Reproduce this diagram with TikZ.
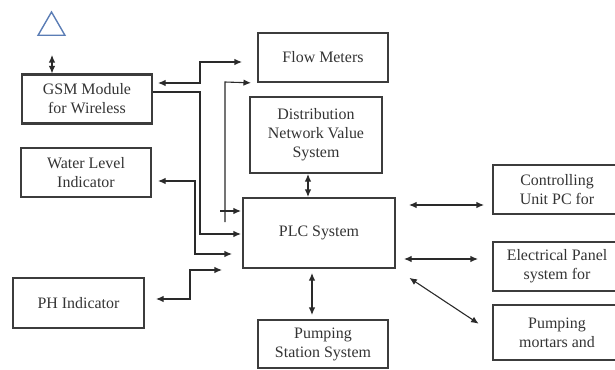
\documentclass[tikz,border=0pt]{standalone}
\usepackage{fontspec}
\setmainfont{Liberation Serif}
\newfontfamily\boxfont{Liberation Serif}
\usetikzlibrary{arrows.meta,shapes.geometric}
\definecolor{ink}{HTML}{333333}
\definecolor{edge}{HTML}{3C3C3C}
\definecolor{wire}{HTML}{2A2A2A}
\definecolor{antc}{HTML}{5B7DB5}
\tikzset{
  blk/.style={draw=edge,line width=2.1pt,minimum width=130bp,minimum height=49bp,align=center,inner sep=2pt,text=ink,font=\boxfont\fontsize{16}{19}\selectfont},
  tip/.style={-{Latex[length=7.5bp,width=6.5bp]},line width=1.1pt,wire},
  bitip/.style={{Latex[length=7.5bp,width=6.5bp]}-{Latex[length=7.5bp,width=6.5bp]},line width=1.1pt,wire},
  antenna/.style={draw=antc,line width=1.4pt,regular polygon,regular polygon sides=3,minimum size=31bp,inner sep=0pt}
}
\begin{document}
\begin{tikzpicture}[x=1bp,y=-1bp]
\useasboundingbox (0,0) rectangle (615,369);
\clip (0,0) rectangle (615,369);
% antenna
\node[antenna] (ant) at (51.5,27.5) {};
\coordinate (antfoot) at (52,55);
% left column
\node[blk] (gsm)   at (87,99)     {GSM Module\\for Wireless};
\node[blk] (water) at (86,172.5)  {Water Level\\Indicator};
\node[blk,minimum width=131bp,minimum height=50bp] (ph) at (78.5,303) {PH Indicator};
% middle column
\node[blk] (flow)  at (323,57.5)  {Flow Meters};
\node[blk,minimum width=132bp,minimum height=76bp] (dist) at (316,135) {Distribution\\Network Value\\System};
\node[blk,minimum width=152bp,minimum height=70bp] (plc)  at (319,233) {PLC System};
\node[blk,minimum height=48bp] (pump) at (323,344) {Pumping\\Station System};
% right column, cut by the page edge
\node[blk,minimum width=128bp] (ctrl)  at (557,189.5) {Controlling\\Unit PC for};
\node[blk,minimum width=128bp] (elec)  at (557,266.5) {Electrical Panel\\system for};
\node[blk,minimum width=128bp,minimum height=55bp] (motor) at (557,332.5) {Pumping\\mortars and};
% links
\draw[bitip] (antfoot) -- (gsm.north -| antfoot);
\draw[bitip,shorten <=5bp,shorten >=15bp] (gsm.east |- 0,83) -- (200,83) -- (200,62) -- (flow.west |- 0,62);
\draw[tip,shorten >=1bp] (gsm.east |- 0,92) -- (200,92) -- (200,234) -- (plc.west |- 0,234);
\draw[tip,shorten >=6bp] (225,222) -- (225,82) -- (flow.south west);
\draw[tip,shorten >=1bp] (220,211) -- (plc.west |- 0,211);
\draw[bitip,shorten <=6bp,shorten >=10bp] (water.east |- 0,181) -- (195,181) -- (195,254) -- (plc.west |- 0,254);
\draw[bitip,shorten <=11bp,shorten >=20bp] (ph.east |- 0,299) -- (190,299) -- (190,270) -- (plc.west |- 0,270);
\draw[bitip] (dist.south -| 308,0) -- (plc.north -| 308,0);
\draw[bitip,shorten <=4bp,shorten >=4bp] (plc.south -| 312,0) -- (pump.north -| 312,0);
\draw[bitip,shorten <=13bp,shorten >=8bp] (plc.east |- 0,205) -- (ctrl.west |- 0,205);
\draw[bitip,shorten <=8bp,shorten >=14bp] (plc.east |- 0,259) -- (elec.west |- 0,259);
\draw[bitip,shorten <=16bp,shorten >=16bp] (plc.south east) -- (motor.west);
\end{tikzpicture}
\end{document}
